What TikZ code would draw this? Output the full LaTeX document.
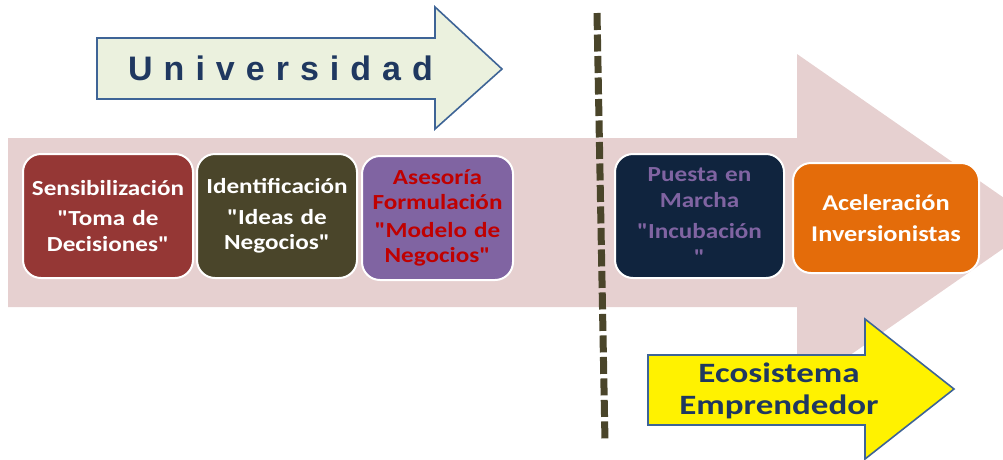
\documentclass[tikz,border=0pt]{standalone}
\usepackage{fontspec}
\setmainfont{Carlito}
\newfontfamily\boxfont[FakeStretch=1.17]{Carlito}
\newfontfamily\ecofont[FakeStretch=1.25]{Carlito}
\newfontfamily\unifont{Liberation Sans}
\newcommand\qq{\symbol{34}}
\definecolor{pinkarrow}{RGB}{230,208,208}
\definecolor{unifill}{RGB}{235,241,222}
\definecolor{arrowline}{RGB}{62,100,150}
\definecolor{navy}{RGB}{31,56,96}
\definecolor{boxA}{RGB}{149,55,53}
\definecolor{boxB}{RGB}{74,69,42}
\definecolor{boxC}{RGB}{128,100,162}
\definecolor{boxD}{RGB}{16,36,62}
\definecolor{boxE}{RGB}{228,108,10}
\definecolor{redtext}{RGB}{192,0,0}
\definecolor{dashcol}{RGB}{74,69,42}
\tikzset{
  stage/.style={draw=white, line width=2pt, rounded corners=18pt, minimum height=124pt, align=center, font=\boxfont\bfseries\fontsize{21.5}{25.5}\selectfont, inner sep=0pt},
  bigarrow/.style={draw=arrowline, line width=1.6pt, line join=miter},
}
\begin{document}
\begin{tikzpicture}[x=1pt,y=-1pt]
\useasboundingbox (0,0) rectangle (1003,459);
\clip (0,0) rectangle (1003,459);
% big pink arrow
\fill[pinkarrow] (8,138) -- (797,138) -- (797,54) -- (1040,223) -- (797,392) -- (797,307) -- (8,307) -- cycle;
% Universidad arrow
\draw[bigarrow, fill=unifill] (97,38) -- (435,38) -- (435,7) -- (502,69) -- (435,129) -- (435,99) -- (97,99) -- cycle;
\node[text=navy, font=\unifont\bfseries\fontsize{34}{34}\selectfont, anchor=base west, inner sep=0pt] (uni) at (128,80)
  {U\kern11pt n\kern11pt i\kern11pt v\kern11pt e\kern11pt r\kern11pt s\kern11pt i\kern11pt d\kern11pt a\kern11pt d};
% stages
\node[stage, fill=boxA, text=white, minimum width=170pt, text width=168pt] (s1) at (108,216)
  {Sensibilización\\[5pt]\qq Toma de\\Decisiones\qq};
\node[stage, fill=boxB, text=white, minimum width=160pt, text width=158pt] (s2) at (277,216)
  {Identificación\\[5pt]\qq Ideas de\\Negocios\qq};
\node[stage, fill=boxC, text=redtext, minimum width=151pt, text width=149pt] (s3) at (437.5,218)
  {Asesoría\\Formulación\\[2pt]\qq Modelo de\\Negocios\qq};
\node[stage, fill=boxD, text=boxC, minimum width=169pt, text width=167pt] (s4) at (699.5,216)
  {Puesta en\\Marcha\\[6pt]\qq Incubación\\\qq};
\node[stage, fill=boxE, text=white, minimum width=186pt, text width=184pt, minimum height=110pt, font=\boxfont\bfseries\fontsize{22.5}{26}\selectfont] (s5) at (886,218)
  {Aceleración\\[5pt]Inversionistas};
% dashed divider
\coordinate (dtop) at (597,13);
\coordinate (dbot) at (605,442);
\draw[dashcol, line width=7pt, dash pattern=on 17pt off 4.5pt] (dtop) -- (dbot);
% Ecosistema arrow
\draw[bigarrow, fill=yellow] (648,355) -- (865,355) -- (865,319) -- (954,389) -- (865,459) -- (865,425) -- (648,425) -- cycle;
\node[text=navy, align=center, font=\ecofont\bfseries\fontsize{28}{32}\selectfont] (eco) at (779,391)
  {Ecosistema\\Emprendedor};
\end{tikzpicture}
\end{document}
